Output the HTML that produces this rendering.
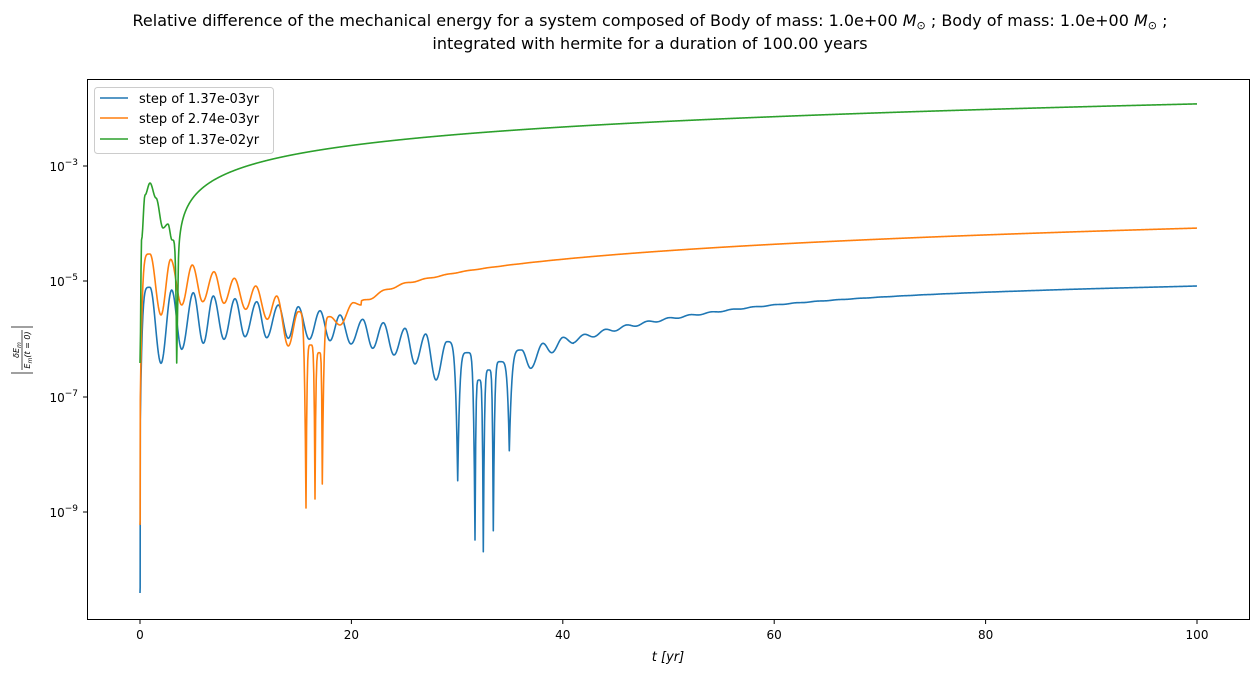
<!DOCTYPE html>
<html><head><meta charset="utf-8"><style>
body{margin:0;background:#fff;font-family:"Liberation Sans","DejaVu Sans",sans-serif}
</style></head><body>
<svg id="s" width="1259" height="676" xmlns="http://www.w3.org/2000/svg" font-family="DejaVu Sans, Liberation Sans, sans-serif">
<rect width="1259" height="676" fill="#fff"/>
<text x="650" y="26" font-size="16" text-anchor="middle">Relative difference of the mechanical energy for a system composed of Body of mass: 1.0e+00 <tspan font-style="italic">M</tspan><tspan font-size="11" dy="3">⊙</tspan><tspan dy="-3"> ; Body of mass: 1.0e+00 </tspan><tspan font-style="italic">M</tspan><tspan font-size="11" dy="3">⊙</tspan><tspan dy="-3"> ;</tspan></text>
<text x="650" y="49" font-size="16" text-anchor="middle">integrated with hermite for a duration of 100.00 years</text>
<defs><clipPath id="c"><rect x="88" y="80" width="1162" height="539"/></clipPath></defs>
<g id="lines" clip-path="url(#c)" fill="none" stroke-width="1.6" stroke-linejoin="round"></g>
<rect x="87.5" y="79.5" width="1162" height="540" fill="none" stroke="#000" stroke-width="1"/>
<g font-size="12" text-anchor="middle">
<line x1="140" y1="620" x2="140" y2="624" stroke="#000"/><text x="140" y="639">0</text>
<line x1="351.4" y1="620" x2="351.4" y2="624" stroke="#000"/><text x="351.4" y="639">20</text>
<line x1="562.8" y1="620" x2="562.8" y2="624" stroke="#000"/><text x="562.8" y="639">40</text>
<line x1="774.2" y1="620" x2="774.2" y2="624" stroke="#000"/><text x="774.2" y="639">60</text>
<line x1="985.6" y1="620" x2="985.6" y2="624" stroke="#000"/><text x="985.6" y="639">80</text>
<line x1="1197" y1="620" x2="1197" y2="624" stroke="#000"/><text x="1197" y="639">100</text>
</g>
<text x="668" y="661" font-size="13" text-anchor="middle" font-style="italic">t [yr]</text>
<g font-size="12" text-anchor="end">
<line x1="83" y1="166" x2="87" y2="166" stroke="#000"/><text x="78" y="171">10<tspan font-size="9" dy="-6">−3</tspan></text>
<line x1="83" y1="281" x2="87" y2="281" stroke="#000"/><text x="78" y="286">10<tspan font-size="9" dy="-6">−5</tspan></text>
<line x1="83" y1="397" x2="87" y2="397" stroke="#000"/><text x="78" y="402">10<tspan font-size="9" dy="-6">−7</tspan></text>
<line x1="83" y1="512" x2="87" y2="512" stroke="#000"/><text x="78" y="517">10<tspan font-size="9" dy="-6">−9</tspan></text>
</g>
<g transform="translate(22,350) rotate(-90)" font-size="8" text-anchor="middle" font-style="italic">
<text x="0" y="-3">δE<tspan font-size="6" dy="2">m</tspan></text>
<line x1="-20" y1="0" x2="20" y2="0" stroke="#000" stroke-width="0.7"/>
<text x="0" y="8">E<tspan font-size="6" dy="2">m</tspan><tspan dy="-2">(t = 0)</tspan></text>
<line x1="-23" y1="-11" x2="-23" y2="11" stroke="#000" stroke-width="0.8"/>
<line x1="23" y1="-11" x2="23" y2="11" stroke="#000" stroke-width="0.8"/>
</g>
<rect x="94.5" y="87.5" width="179" height="66" rx="3" fill="#fff" fill-opacity="0.8" stroke="#ccc"/>
<line x1="100" y1="98" x2="128" y2="98" stroke="#1f77b4" stroke-width="1.6"/>
<line x1="100" y1="118" x2="128" y2="118" stroke="#ff7f0e" stroke-width="1.6"/>
<line x1="100" y1="139" x2="128" y2="139" stroke="#2ca02c" stroke-width="1.6"/>
<g font-size="13"><text x="139" y="103">step of 1.37e-03yr</text><text x="139" y="123">step of 2.74e-03yr</text><text x="139" y="144">step of 1.37e-02yr</text></g>
</svg>
<script>
function interp(pts){let d='M'+pts[0][0]+','+pts[0][1];
for(let i=1;i<pts.length;i++){const[a,b,da]=pts[i-1],[c,e,dc]=pts[i];const n=Math.max(2,Math.ceil((c-a)*1.5));
for(let k=1;k<=n;k++){const u=k/n;let w;
if(dc)w=Math.pow(u,5);else if(da)w=1-Math.pow(1-u,5);else w=(1-Math.cos(Math.PI*u))/2;
d+='L'+(a+(c-a)*u).toFixed(2)+','+(b+(e-b)*w).toFixed(2);}}return d;}
function cr(tab,x){const n=tab.length;let i=1;while(i<n-1&&x>tab[i][0])i++;
const p1=tab[i-1],p2=tab[i],p0=tab[Math.max(0,i-2)],p3=tab[Math.min(n-1,i+1)];
const h=p2[0]-p1[0];const u=Math.min(1,Math.max(0,(x-p1[0])/h));
const m1=(p2[1]-p0[1])/(p2[0]-p0[0])*h,m2=(p3[1]-p1[1])/(p3[0]-p1[0])*h;
const u2=u*u,u3=u2*u;return (2*u3-3*u2+1)*p1[1]+(u3-2*u2+u)*m1+(-2*u3+3*u2)*p2[1]+(u3-u2)*m2;}
function tail(d,x0,x1,mean,amp0,L,ph){for(let x=x0;x<=x1;x+=0.5){const t=(x-140)/10.57;const A=amp0*Math.exp(-(x-x0)/L);
d+='L'+x.toFixed(2)+','+(mean(x)-A*Math.cos(Math.PI*(t-ph))).toFixed(2);}return d;}
function add(d,col){const p=document.createElementNS('http://www.w3.org/2000/svg','path');p.setAttribute('d',d);p.setAttribute('stroke',col);document.getElementById('lines').appendChild(p);}
const py=v=>166+(-3-Math.log10(v))*57.6;
// blue
const B=[[140,593],[140.3,420,1],[150,287.3],[161,363.3],[171.7,290],[181.7,349.3],[193.3,292.7],[203.3,343.3],[213.3,296],[224,339.3],[235,298.7],[245,336.7],[256.7,301.7],[266.7,337.7],[278.3,305],[288.3,338.3],[298.3,306.7],[309.3,339.3],[320,310.7],[330,340.7],[340,315],[351,344],[362.7,319.3],[372.7,348.3],[383.3,322.7],[394,355],[405,328.3],[415,364],[425.7,334],[436,380],[446.7,341.7],[457.7,480.7,1],[467.7,352.7],[475,540,1],[479,380],[483.3,551.7,1],[489,370],[493.3,530.7,1],[500,361.7],[509.3,450.7,1],[521.7,350],[530.7,368.3],[543,343.3],[551.7,352.7],[563.3,337.3],[573.3,343.3]];
let db=interp(B);
const bt=[[573,340],[620,328],[680,317],[774,305],[900,296],[1050,290],[1197,286]];
db=tail(db,573.5,1197,x=>cr(bt,x),3,90,0);
add(db,'#1f77b4');
// orange
const O=[[140,525],[140.3,400,1],[150,254],[161,315],[170.7,259.3],[181.7,305],[192.3,265],[202.7,301.7],[214,271.7],[224,303.3],[234.3,278.3],[245.7,309.3],[255.7,286],[267.3,319.3],[276.7,296],[288.3,346],[298.3,311.7],[306,508,1],[310.7,345],[315,499,1],[319.3,352.7],[322.3,484,1],[330,316.7],[340,325],[353.3,302.7],[361,305]];
let dor=interp(O);
const ot=[[361,303],[380,293],[400,285],[430,278],[460,272]];
const om=x=>{if(x<460)return cr(ot,x);const t=(x-140)/10.57;const v=1e-6*(t-16.5);const y=py(v);const y0=py(1e-6*((460-140)/10.57-16.5));return y+(272-y0)*Math.exp(-(x-460)/150);};
dor=tail(dor,361.5,1197,om,2,45,1);
add(dor,'#ff7f0e');
// green
const G=[[140,363],[141.5,240],[145,195],[150,183],[156,198],[163,228],[168,224],[172,240],[176.7,363,1]];
let dg=interp(G);
for(let t=3.64;t<=100;t+=0.02){const v=1.14e-4*(t-3.6)+1e-4*Math.sqrt(t-3.6);dg+='L'+(140+10.57*t).toFixed(2)+','+py(v).toFixed(2);}
add(dg,'#2ca02c');
</script>
</body></html>
